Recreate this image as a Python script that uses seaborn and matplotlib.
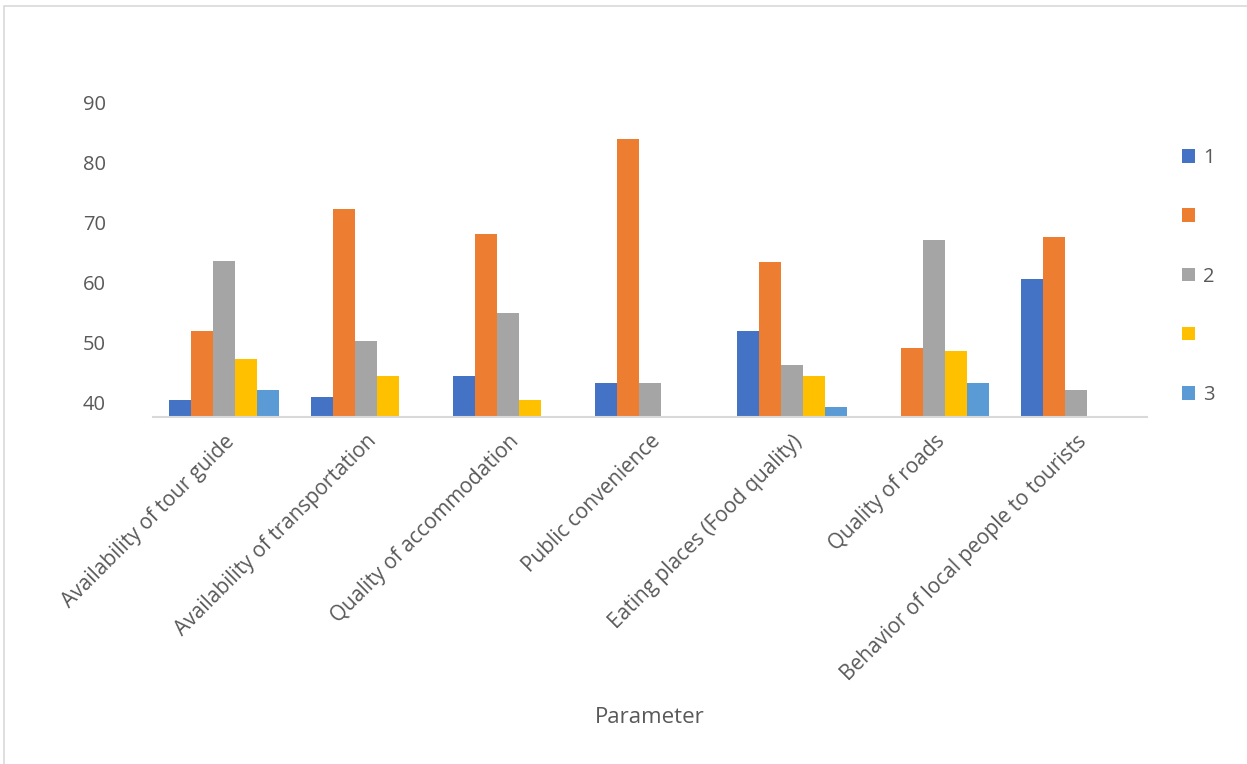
import matplotlib
matplotlib.use("Agg")
import matplotlib.pyplot as plt
from matplotlib.patches import Rectangle
import seaborn as sns
import pandas as pd
import numpy as np

# categories on the x axis
categories = [
    "Availability of tour guide",
    "Availability of transportation",
    "Quality of accommodation",
    "Public convenience",
    "Eating places (Food quality)",
    "Quality of roads",
    "Behavior of local people to tourists",
]

# five series (nan = no bar in that group)
series_names = ["s1", "s2", "s3", "s4", "s5"]
legend_labels = ["1", "", "2", "", "3"]
s1 = [40.5, 41.0, 44.5, 43.3, 52.0, np.nan, 60.7]
s2 = [52.0, 72.3, 68.2, 84.0, 63.5, 49.2, 67.7]
s3 = [63.7, 50.3, 55.0, 43.3, 46.3, 67.2, 42.2]
s4 = [47.3, 44.5, 40.5, np.nan, 44.5, 48.7, np.nan]
s5 = [42.2, np.nan, np.nan, np.nan, 39.3, 43.3, np.nan]
yticks = [40, 50, 60, 70, 80, 90]

colors = ["#4472C4", "#ED7D31", "#A5A5A5", "#FFC000", "#5B9BD5"]
text_color = "#595959"

rows = []
for name, vals in zip(series_names, [s1, s2, s3, s4, s5]):
    for cat, v in zip(categories, vals):
        rows.append({"Parameter": cat, "series": name, "value": v})
df = pd.DataFrame(rows)

sns.set_theme(style="white")
plt.rcParams["font.family"] = ["Open Sans", "DejaVu Sans"]

fig = plt.figure(figsize=(12.47, 7.64), dpi=100)
ax = fig.add_axes([153 / 1247, 1 - 417 / 764, (1147 - 153) / 1247, 320 / 764])

sns.barplot(data=df, x="Parameter", y="value", hue="series",
            hue_order=series_names, palette=colors, saturation=1,
            width=0.775, gap=0, order=categories, linewidth=0, ax=ax)

ax.set_ylim(40 - 14 / 6, 91)
ax.set_yticks(yticks)
ax.tick_params(axis="y", labelsize=14.5, colors=text_color, length=0, pad=34)
ax.tick_params(axis="x", labelsize=15, colors=text_color, length=0, pad=10)
plt.setp(ax.get_xticklabels(), rotation=45, ha="right", rotation_mode="anchor")
ax.set_ylabel("")
ax.set_xlabel("Parameter", fontsize=16, color=text_color, labelpad=16)

for side in ["top", "right", "left"]:
    ax.spines[side].set_visible(False)
ax.spines["bottom"].set_color("#d9d9d9")
ax.spines["bottom"].set_linewidth(1.5)

handles, _ = ax.get_legend_handles_labels()
ax.legend(handles, legend_labels, loc="upper left",
          bbox_to_anchor=(1182 / 1247, 1 - 148 / 764),
          bbox_transform=fig.transFigure, frameon=False,
          fontsize=14.5, labelcolor=text_color,
          handlelength=0.65, handleheight=0.65, handletextpad=0.4,
          labelspacing=1.95, borderpad=0, borderaxespad=0)

# chart area border
fig.patches.append(Rectangle((4 / 1247, -0.1), 1.2, 1 - 6 / 764 + 0.1,
                             transform=fig.transFigure, fill=False,
                             edgecolor="#d9d9d9", linewidth=1.2))

fig.savefig("out.png", dpi=100)
